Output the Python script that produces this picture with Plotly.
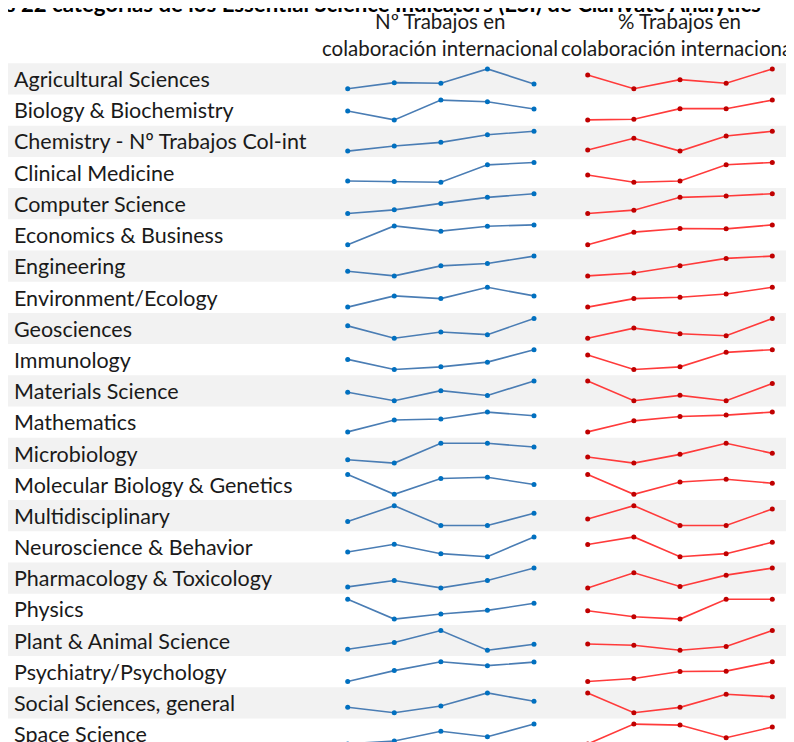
import plotly.graph_objects as go

# ---------------- data ----------------
categories = [
    "Agricultural Sciences", "Biology & Biochemistry", "Chemistry - Nº Trabajos Col-int",
    "Clinical Medicine", "Computer Science", "Economics & Business", "Engineering",
    "Environment/Ecology", "Geosciences", "Immunology", "Materials Science", "Mathematics",
    "Microbiology", "Molecular Biology & Genetics", "Multidisciplinary",
    "Neuroscience & Behavior", "Pharmacology & Toxicology", "Physics",
    "Plant & Animal Science", "Psychiatry/Psychology", "Social Sciences, general",
    "Space Science",
]
periods = [1, 2, 3, 4, 5]

# Nº trabajos en colaboración internacional (relative sparkline values)
n_trabajos = [
    [4.6, 10.6, 10.0, 24.3, 9.3],
    [13.5, 4.5, 24.5, 22.8, 15.5],
    [4.7, 9.7, 13.4, 21.0, 24.4],
    [6.2, 5.6, 4.9, 21.9, 24.2],
    [4.8, 8.4, 14.8, 20.8, 24.4],
    [4.6, 23.6, 18.3, 23.3, 24.6],
    [9.5, 4.8, 14.8, 17.2, 24.5],
    [4.4, 15.7, 13.0, 24.4, 15.7],
    [16.9, 4.6, 10.9, 8.2, 24.2],
    [14.8, 4.8, 7.4, 12.1, 24.4],
    [13.0, 4.3, 14.6, 9.6, 24.6],
    [4.5, 16.5, 17.5, 24.5, 20.8],
    [8.0, 4.7, 24.4, 24.4, 20.7],
    [24.6, 4.9, 20.6, 21.9, 14.6],
    [8.4, 24.4, 4.4, 4.4, 16.8],
    [9.6, 17.3, 8.0, 5.0, 24.6],
    [5.8, 12.2, 4.8, 12.2, 24.5],
    [24.4, 4.7, 9.7, 13.4, 20.4],
    [5.9, 12.6, 24.6, 4.9, 10.9],
    [4.8, 15.8, 24.8, 20.8, 24.4],
    [10.0, 4.6, 11.3, 24.3, 16.0],
    [4.5, 7.5, 17.2, 11.8, 24.5],
]

# % trabajos en colaboración internacional (relative sparkline values)
pct_trabajos = [
    [18.3, 4.6, 13.6, 10.0, 24.3],
    [4.8, 5.5, 15.8, 15.8, 24.2],
    [5.7, 17.4, 4.7, 19.7, 24.4],
    [11.9, 4.6, 5.9, 21.9, 24.2],
    [4.8, 8.1, 20.8, 22.1, 24.4],
    [4.6, 17.3, 21.0, 20.6, 24.6],
    [4.5, 7.5, 14.8, 22.2, 24.5],
    [4.4, 13.0, 14.4, 17.7, 24.4],
    [4.6, 14.9, 9.2, 7.2, 24.6],
    [19.1, 4.8, 7.4, 21.8, 24.4],
    [24.6, 4.6, 10.0, 4.6, 22.0],
    [4.5, 15.5, 19.8, 21.2, 24.2],
    [10.7, 4.7, 13.4, 24.4, 14.4],
    [24.6, 4.9, 17.2, 19.9, 15.9],
    [10.8, 24.1, 4.4, 4.4, 20.8],
    [17.0, 24.6, 5.0, 8.0, 19.3],
    [4.8, 19.8, 6.2, 17.5, 24.5],
    [13.0, 7.0, 4.7, 24.4, 24.4],
    [11.2, 9.9, 4.9, 8.6, 24.6],
    [5.1, 8.1, 15.1, 15.4, 24.8],
    [24.6, 4.6, 10.0, 23.3, 20.6],
    [4.5, 24.5, 23.5, 10.8, 21.5],
]

title_text = "las 22 categorías de los Essential Science Indicators (ESI) de Clarivate Analytics"
header_1 = ["Nº Trabajos en", "colaboración internacional"]
header_2 = ["% Trabajos en", "colaboración internacional"]

# ---------------- layout geometry ----------------
W, H = 794, 742
OFF = 8            # page offset of the figure inside the html body
M_TOP = 55
PLOT_H = H - M_TOP
ROW0 = 63.3
ROW_H = 31.2
PAD_TOP = 5.6
SPAN_PX = 19.8
FONT = "Lato"


def py(p):
    """page pixel y -> paper y"""
    return (H - (p - OFF)) / PLOT_H


def px(p):
    """page pixel x -> paper x"""
    return (p - OFF) / W


columns = [
    dict(data=n_trabajos, x_first=347.7, x_last=534.0,
         line="#4a7db4", marker="#0070c0"),
    dict(data=pct_trabajos, x_first=587.7, x_last=772.3,
         line="#ff3b3b", marker="#c00000"),
]

fig = go.Figure()
layout_axes = {}
shapes = []
annotations = []

for k, cat in enumerate(categories):
    top = ROW0 + k * ROW_H
    bot = top + ROW_H
    if k % 2 == 0:
        shapes.append(dict(type="rect", xref="paper", yref="paper",
                           x0=px(7), x1=1, y0=py(bot), y1=py(top),
                           fillcolor="#f2f2f2", line_width=0, layer="below"))
    annotations.append(dict(text=cat, xref="paper", yref="paper",
                            x=px(12), y=py(top + 15.8), xanchor="left", yanchor="middle",
                            showarrow=False,
                            font=dict(family=FONT, size=21.5, color="#1a1a1a")))
    for c, col in enumerate(columns):
        idx = 2 * k + c + 1
        sfx = "" if idx == 1 else str(idx)
        vals = col["data"][k]
        vmin, vmax = min(vals), max(vals)
        ppu = SPAN_PX / (vmax - vmin)
        upper = vmax + PAD_TOP / ppu
        lower = upper - (bot - top) / ppu
        step = (col["x_last"] - col["x_first"]) / (len(periods) - 1)
        left_px = col["x_first"] - 0.5 * step
        right_px = col["x_last"] + 0.5 * step
        layout_axes["xaxis" + sfx] = dict(domain=[px(left_px), px(right_px)],
                                          range=[periods[0] - 0.5, periods[-1] + 0.5],
                                          visible=False, fixedrange=True, anchor="y" + sfx)
        layout_axes["yaxis" + sfx] = dict(domain=[py(bot), py(top)],
                                          range=[lower, upper], visible=False,
                                          fixedrange=True, anchor="x" + sfx)
        fig.add_trace(go.Scatter(
            x=periods, y=vals, mode="lines+markers",
            xaxis="x" + sfx, yaxis="y" + sfx,
            line=dict(color=col["line"], width=1.6),
            marker=dict(color=col["marker"], size=5),
            showlegend=False, hoverinfo="skip"))

# headers
for cx, lines in ((440, header_1), (679, header_2)):
    annotations.append(dict(text=lines[0], xref="paper", yref="paper",
                            x=px(cx), y=py(21), xanchor="center", yanchor="middle",
                            showarrow=False, font=dict(family=FONT, size=20.5, color="#1a1a1a")))
    annotations.append(dict(text=lines[1], xref="paper", yref="paper",
                            x=px(cx), y=py(48.5), xanchor="center", yanchor="middle",
                            showarrow=False, font=dict(family=FONT, size=20.5, color="#1a1a1a")))

# title (cut off at the top of the page)
annotations.append(dict(text="<b>" + title_text + "</b>", xref="paper", yref="paper",
                        x=px(763), y=py(3.5), xanchor="right", yanchor="middle",
                        showarrow=False, font=dict(family=FONT, size=22.2, color="#000000")))

fig.update_layout(
    width=W, height=H,
    margin=dict(l=0, r=0, t=M_TOP, b=0),
    paper_bgcolor="white", plot_bgcolor="rgba(0,0,0,0)",
    shapes=shapes, annotations=annotations,
    **layout_axes,
)

fig.write_html("out.html")
